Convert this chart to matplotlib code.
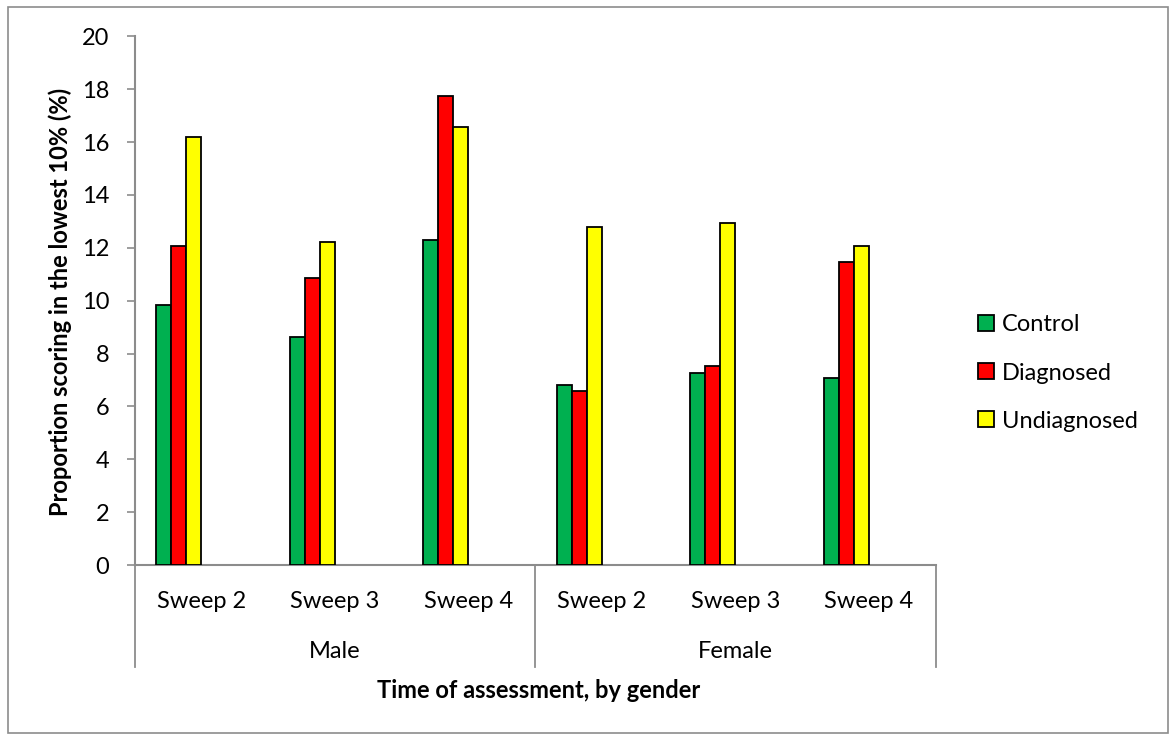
import numpy as np
import matplotlib
matplotlib.use('Agg')
from matplotlib import pyplot as plt
from matplotlib.patches import Rectangle, Patch

plt.rcParams['font.family'] = ['Lato', 'DejaVu Sans']

# data
sweeps = ['Sweep 2', 'Sweep 3', 'Sweep 4', 'Sweep 2', 'Sweep 3', 'Sweep 4']
genders = ['Male', 'Female']
series = ['Control', 'Diagnosed', 'Undiagnosed']
control = [9.82, 8.64, 12.28, 6.82, 7.25, 7.06]
diagnosed = [12.05, 10.86, 17.74, 6.59, 7.52, 11.48]
undiagnosed = [16.2, 12.23, 16.58, 12.78, 12.95, 12.05]
colors = ['#00B050', '#FF0000', '#FFFF00']

W, H = 1172, 734
fs = 17
fig = plt.figure(figsize=(W / 100, H / 100), dpi=100)
ax = fig.add_axes([134.5 / W, (H - 565) / H, 801 / W, (565 - 36.3) / H])

gray = '#8c8c8c'
x = np.arange(len(sweeps))
bw = 15 / 133.5
for i, (vals, c) in enumerate(zip([control, diagnosed, undiagnosed], colors)):
    ax.bar(x - 3 * bw + bw / 2 + i * bw, vals, width=bw, color=c,
           edgecolor='black', linewidth=1.3, zorder=3)

ax.set_xlim(-0.5, 5.5)
ax.set_ylim(0, 20)
ax.set_yticks(range(0, 21, 2))
ax.tick_params(axis='y', length=6, width=1.2, color=gray, labelsize=fs, pad=12)
ax.set_xticks([])
for s in ['top', 'right']:
    ax.spines[s].set_visible(False)
for s in ['left', 'bottom']:
    ax.spines[s].set_color(gray)
    ax.spines[s].set_linewidth(1.5)

# two-level category axis
tr = ax.get_xaxis_transform()
ylow = -(667 - 565) / (565 - 36.3)
for xv in [-0.5, 2.5, 5.5]:
    ax.plot([xv, xv], [0, ylow], color=gray, lw=1.3, transform=tr, clip_on=False)
for xi, lab in zip(x, sweeps):
    ax.text(xi, -(601 - 565) / 528.7, lab, transform=tr, ha='center', va='center',
            fontsize=fs)
for xi, lab in zip([1, 4], genders):
    ax.text(xi, -(651 - 565) / 528.7, lab, transform=tr, ha='center', va='center',
            fontsize=fs)

fig.text(539 / W, 1 - 690 / H, 'Time of assessment, by gender', ha='center',
         va='center', fontsize=fs, fontweight='bold')
fig.text(60 / W, 1 - 302 / H, 'Proportion scoring in the lowest 10% (%)',
         ha='center', va='center', rotation=90, fontsize=fs, fontweight='bold')

handles = [Patch(facecolor=c, edgecolor='black', linewidth=1.3) for c in colors]
fig.legend(handles, series, loc='center left', bbox_to_anchor=(957 / W, 1 - 373 / H),
           frameon=False, fontsize=fs, handlelength=0.65, handleheight=0.65,
           handletextpad=0.35, labelspacing=1.15)

fig.patches.append(Rectangle((8 / W, 1 / H), 1160 / W, (H - 8) / H, transform=fig.transFigure,
                             fill=False, edgecolor=gray, lw=1.2))

fig.savefig('out.png', dpi=100)
